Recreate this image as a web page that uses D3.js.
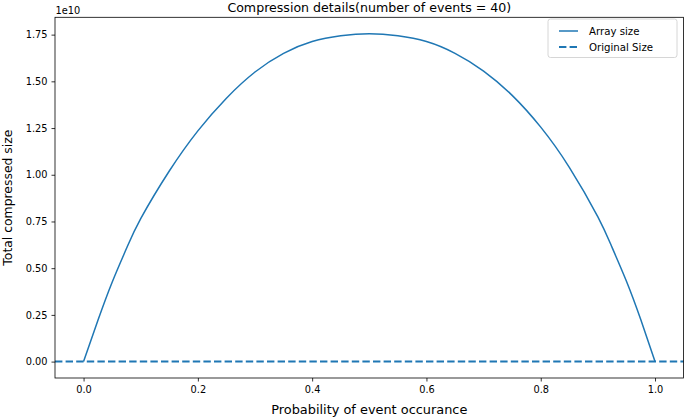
<!DOCTYPE html>
<html>
<head>
<meta charset="utf-8">
<script src="https://cdn.jsdelivr.net/npm/d3@7"></script>
<style>
	body { margin: 0; background: white; }
	svg { display: block; font-family: "DejaVu Sans", sans-serif; }
</style>
</head>
<body>
<svg id="chart" width="685" height="419"></svg>
<script>
// values (array size in units of 1e10)
var probs = [0, 0.025, 0.05, 0.075, 0.1, 0.15, 0.2, 0.25, 0.3, 0.35, 0.4, 0.45, 0.5,
	0.55, 0.6, 0.65, 0.7, 0.75, 0.8, 0.85, 0.9, 0.925, 0.95, 0.975, 1];
var arraySize = [0, 0.22, 0.425, 0.605, 0.765, 1.02, 1.235, 1.41, 1.55, 1.65, 1.713, 1.744, 1.755,
	1.744, 1.713, 1.65, 1.555, 1.425, 1.255, 1.04, 0.775, 0.61, 0.43, 0.225, 0];
var originalSize = 0;
var xTicks = [0, 0.2, 0.4, 0.6, 0.8, 1.0];
var yTicks = [0, 0.25, 0.5, 0.75, 1.0, 1.25, 1.5, 1.75];
var legendLabels = ["Array size", "Original Size"];

var blue = "#1f77b4";
var svg = d3.select("#chart");
var plotL = 55, plotR = 683.6, plotT = 17.3, plotB = 378;

// matplotlib style 5% margins
var xmin = d3.min(probs), xmax = d3.max(probs);
var ymin = Math.min(d3.min(arraySize), originalSize), ymax = d3.max(arraySize);
var xpad = (xmax - xmin) * 0.05, ypad = (ymax - ymin) * 0.05;

var x = d3.scaleLinear().domain([xmin - xpad, xmax + xpad]).range([plotL, plotR]);
var y = d3.scaleLinear().domain([ymin - ypad, ymax + ypad]).range([plotB, plotT]);

// original size, dashed line across the axes
svg.append("line")
	.attr("x1", plotL)
	.attr("x2", plotR)
	.attr("y1", y(originalSize))
	.attr("y2", y(originalSize))
	.attr("stroke", blue)
	.attr("stroke-width", 2)
	.attr("stroke-dasharray", "7.4,3.2");

var line = d3.line()
	.x(function(d, i) { return x(probs[i]); })
	.y(function(d) { return y(d); })
	.curve(d3.curveNatural);

svg.append("path")
	.datum(arraySize)
	.attr("d", line)
	.attr("fill", "none")
	.attr("stroke", blue)
	.attr("stroke-width", 1.5);

// axes
var xAxis = svg.append("g")
	.attr("transform", "translate(0," + plotB + ")")
	.call(d3.axisBottom(x).tickValues(xTicks).tickFormat(d3.format(".1f")).tickSize(3.5).tickPadding(4));
var yAxis = svg.append("g")
	.attr("transform", "translate(" + plotL + ",0)")
	.call(d3.axisLeft(y).tickValues(yTicks).tickFormat(d3.format(".2f")).tickSize(3.5).tickPadding(4));

[xAxis, yAxis].forEach(function(a) {
	a.select(".domain").remove();
	a.selectAll(".tick line").attr("stroke", "#000").attr("stroke-width", 0.8);
	a.selectAll(".tick text").attr("fill", "#000").attr("font-size", 9.8)
		.attr("font-family", "DejaVu Sans");
});
xAxis.selectAll(".tick text").attr("dy", "0.75em");

// frame
svg.append("rect")
	.attr("x", plotL)
	.attr("y", plotT)
	.attr("width", plotR - plotL)
	.attr("height", plotB - plotT)
	.attr("fill", "none")
	.attr("stroke", "#000")
	.attr("stroke-width", 0.8);

// texts
svg.append("text")
	.attr("x", plotL + 0.5)
	.attr("y", 13.5)
	.attr("font-size", 9.8)
	.text("1e10");

svg.append("text")
	.attr("x", (plotL + plotR) / 2)
	.attr("y", 11.5)
	.attr("text-anchor", "middle")
	.attr("font-size", 12.6)
	.text("Compression details(number of events = 40)");

svg.append("text")
	.attr("x", (plotL + plotR) / 2)
	.attr("y", 414)
	.attr("text-anchor", "middle")
	.attr("font-size", 12.9)
	.text("Probability of event occurance");

svg.append("text")
	.attr("transform", "translate(12," + (plotT + plotB) / 2 + ") rotate(-90)")
	.attr("text-anchor", "middle")
	.attr("font-size", 12.4)
	.text("Total compressed size");

// legend
var legend = svg.append("g").attr("transform", "translate(548,19)");
legend.append("rect")
	.attr("width", 129)
	.attr("height", 38.5)
	.attr("rx", 2.5)
	.attr("fill", "white")
	.attr("fill-opacity", 0.8)
	.attr("stroke", "#cccccc")
	.attr("stroke-width", 0.8);

legendLabels.forEach(function(lab, i) {
	var ly = 12 + i * 16;
	legend.append("line")
		.attr("x1", 11)
		.attr("x2", 30)
		.attr("y1", ly)
		.attr("y2", ly)
		.attr("stroke", blue)
		.attr("stroke-width", i === 0 ? 1.5 : 2)
		.attr("stroke-dasharray", i === 0 ? null : "7.4,3.2");
	legend.append("text")
		.attr("x", 41)
		.attr("y", ly)
		.attr("dy", "0.35em")
		.attr("font-size", 10.2)
		.text(lab);
});
</script>
</body>
</html>
